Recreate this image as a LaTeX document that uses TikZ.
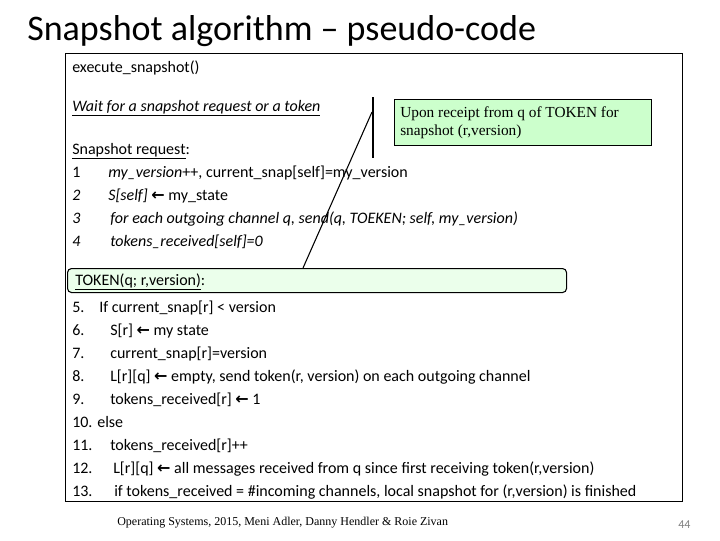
\documentclass[tikz,border=0pt]{standalone}
\usepackage{fontspec}
\setmainfont{Carlito}
\newfontfamily\serif{Liberation Serif}
\newfontfamily\djvfont{DejaVu Sans}
\newcommand{\larr}{{\djvfont\bfseries\fontsize{12}{12}\selectfont ←}}
\begin{document}
\begin{tikzpicture}[x=0.75pt,y=-0.75pt,
  txt/.style={anchor=base west,inner sep=0pt,font=\fontsize{12}{14}\selectfont},
  ln/.style={txt}]
\useasboundingbox (0,0) rectangle (720,540);
\node[anchor=west,inner sep=0pt,font=\fontsize{27}{30}\selectfont] (title) at (27,31) {Snapshot algorithm – pseudo-code};
\draw[line width=0.6pt] (65,53) rectangle (682,501);
\node[txt] (exe) at (72,72) {execute\_snapshot()};
\node[txt] (wait) at (72,111) {\itshape\underline{Wait for a snapshot request or a token}};
\draw[line width=1pt] (373,97) -- (373,158);
\node[draw,line width=1pt,fill=green!20,minimum width=257*0.75pt,minimum height=46*0.75pt,anchor=north west,inner sep=3pt] (note) at (394,99) {};
\node[anchor=north west,align=left,inner sep=0pt,font=\serif\fontsize{11.5}{13.5}\selectfont] (notet) at (400,106) {Upon receipt from q of TOKEN for\\snapshot (r,version)};
\node[txt] (sr) at (72,154) {\underline{Snapshot request}:};
\node[ln] (n1) at (72,177) {1}; \node[txt] (l1) at (108,177) {\itshape my\_version\upshape++, current\_snap[self]=my\_version};
\node[ln] (n2) at (72,200) {\itshape 2}; \node[txt] (l2) at (108,200) {\itshape S[self] \upshape\larr{} my\_state};
\node[ln] (n3) at (72,223) {\itshape 3}; \node[txt] (l3) at (110,223) {\itshape for each outgoing channel q, send(q, TOEKEN; self, my\_version)};
\node[ln] (n4) at (72,246) {\itshape 4}; \node[txt] (l4) at (110,246) {\itshape tokens\_received[self]=0};
\node[draw,rounded corners=3pt,fill=green!8,line width=0.8pt,minimum width=499*0.75pt,minimum height=24*0.75pt,anchor=north west] (tok) at (67,268) {};
\coordinate (ctop) at (372,112);
\draw[line width=0.8pt] (ctop) -- (303,268);
\node[txt] (tokt) at (75,285) {\underline{TOKEN(q; r,version)}:};
\node[ln] at (72,312) {5.}; \node[txt] at (99,312) {If current\_snap[r] < version};
\node[ln] at (72,335) {6.}; \node[txt] at (110,335) {S[r] \larr{} my state};
\node[ln] at (72,358) {7.}; \node[txt] at (110,358) {current\_snap[r]=version};
\node[ln] at (72,381) {8.}; \node[txt] at (110,381) {L[r][q] \larr{} empty, send token(r, version) on each outgoing channel};
\node[ln] at (72,404) {9.}; \node[txt] at (110,404) {tokens\_received[r] \larr{} 1};
\node[ln] at (72,427) {10. else};
\node[ln] at (72,450) {11.}; \node[txt] at (110,450) {tokens\_received[r]++};
\node[ln] at (72,473) {12.}; \node[txt] at (113,473) {L[r][q] \larr{} all messages received from q since first receiving token(r,version)};
\node[ln] at (72,496) {13.}; \node[txt] at (114,496) {if tokens\_received = \#incoming channels, local snapshot for (r,version) is finished};
\node[anchor=west,inner sep=0pt,font=\serif\fontsize{9}{10}\selectfont] (foot) at (117,523) {Operating Systems, 2015, Meni Adler, Danny Hendler \& Roie Zivan};
\node[anchor=west,inner sep=0pt,text=gray,font=\fontsize{9}{10}\selectfont] (pg) at (678,525) {44};
\end{tikzpicture}
\end{document}
